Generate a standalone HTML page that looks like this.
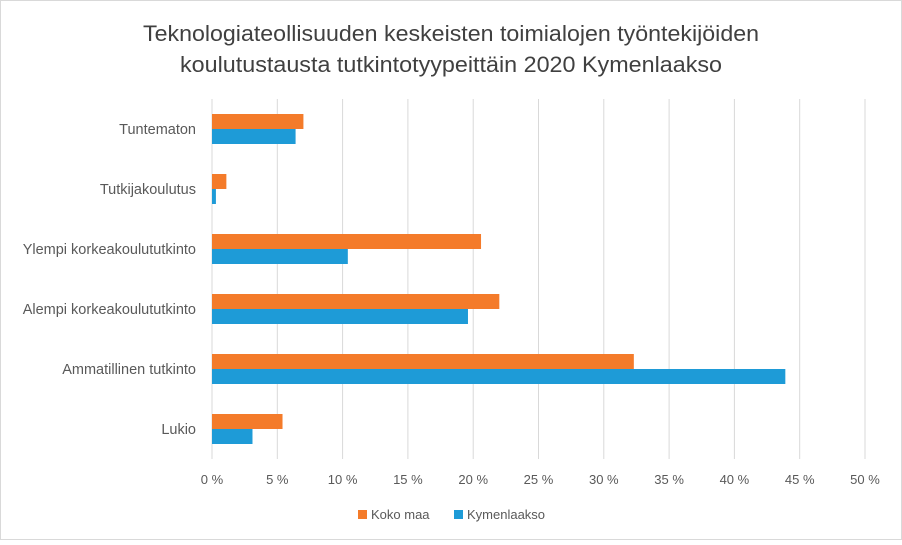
<!DOCTYPE html>
<html><head><meta charset="utf-8"><style>
html,body{margin:0;padding:0;background:#fff}
body{width:902px;height:540px;overflow:hidden;font-family:"Liberation Sans",sans-serif}
svg text{font-family:"Liberation Sans",sans-serif}
</style></head><body>
<svg id="chart" width="902" height="540" xmlns="http://www.w3.org/2000/svg">
<rect x="0.5" y="0.5" width="901" height="539" fill="#fff" stroke="#d9d9d9"/>
<text x="451" y="41" text-anchor="middle" font-size="22" fill="#404040" textLength="616" lengthAdjust="spacingAndGlyphs">Teknologiateollisuuden keskeisten toimialojen työntekijöiden</text>
<text x="451" y="72" text-anchor="middle" font-size="22" fill="#404040" textLength="542" lengthAdjust="spacingAndGlyphs">koulutustausta tutkintotyypeittäin 2020 Kymenlaakso</text>
<g id="grid"></g><g id="bars"></g><g id="labels"></g>
<g>
<rect x="358" y="510" width="9" height="9" fill="#F47B2A"/>
<text x="371" y="519" font-size="13" fill="#595959">Koko maa</text>
<rect x="454" y="510" width="9" height="9" fill="#1E9BD7"/>
<text x="467" y="519" font-size="13" fill="#595959">Kymenlaakso</text>
</g>
</svg>
<script>
const categories=["Tuntematon","Tutkijakoulutus","Ylempi korkeakoulututkinto","Alempi korkeakoulututkinto","Ammatillinen tutkinto","Lukio"];
const kokoMaa=[7.0,1.1,20.6,22.0,32.3,5.4];
const kymenlaakso=[6.4,0.3,10.4,19.6,43.9,3.1];
const ticks=[0,5,10,15,20,25,30,35,40,45,50];
const NS="http://www.w3.org/2000/svg";
const x0=212,x1=865,top0=99,step=60,bh=15;
const xs=v=>x0+(v/50)*(x1-x0);
function mk(t,a,p){const e=document.createElementNS(NS,t);for(const k in a)e.setAttribute(k,a[k]);p.appendChild(e);return e;}
const grid=document.getElementById('grid'),bars=document.getElementById('bars'),labels=document.getElementById('labels');
ticks.forEach(t=>{
 const l=mk('line',{x1:xs(t),x2:xs(t),y1:top0,y2:top0+step*categories.length,stroke:'#d9d9d9','stroke-width':1},grid);
 
 
 const tx=mk('text',{x:xs(t),y:484,'text-anchor':'middle','font-size':13,fill:'#595959'},labels);
 tx.textContent=t+' %';
 
 
});
categories.forEach((c,i)=>{
 const cy=top0+step*i+step/2;
 const r1=mk('rect',{x:x0,y:cy-bh,width:xs(kokoMaa[i])-x0,height:bh,fill:'#F47B2A'},bars);
 
 
 const r2=mk('rect',{x:x0,y:cy,width:xs(kymenlaakso[i])-x0,height:bh,fill:'#1E9BD7'},bars);
 
 
 const t=mk('text',{x:196,y:cy+5,'text-anchor':'end','font-size':14.5,fill:'#595959'},labels);
 t.textContent=c;
 
 
});
</script>
</body></html>
